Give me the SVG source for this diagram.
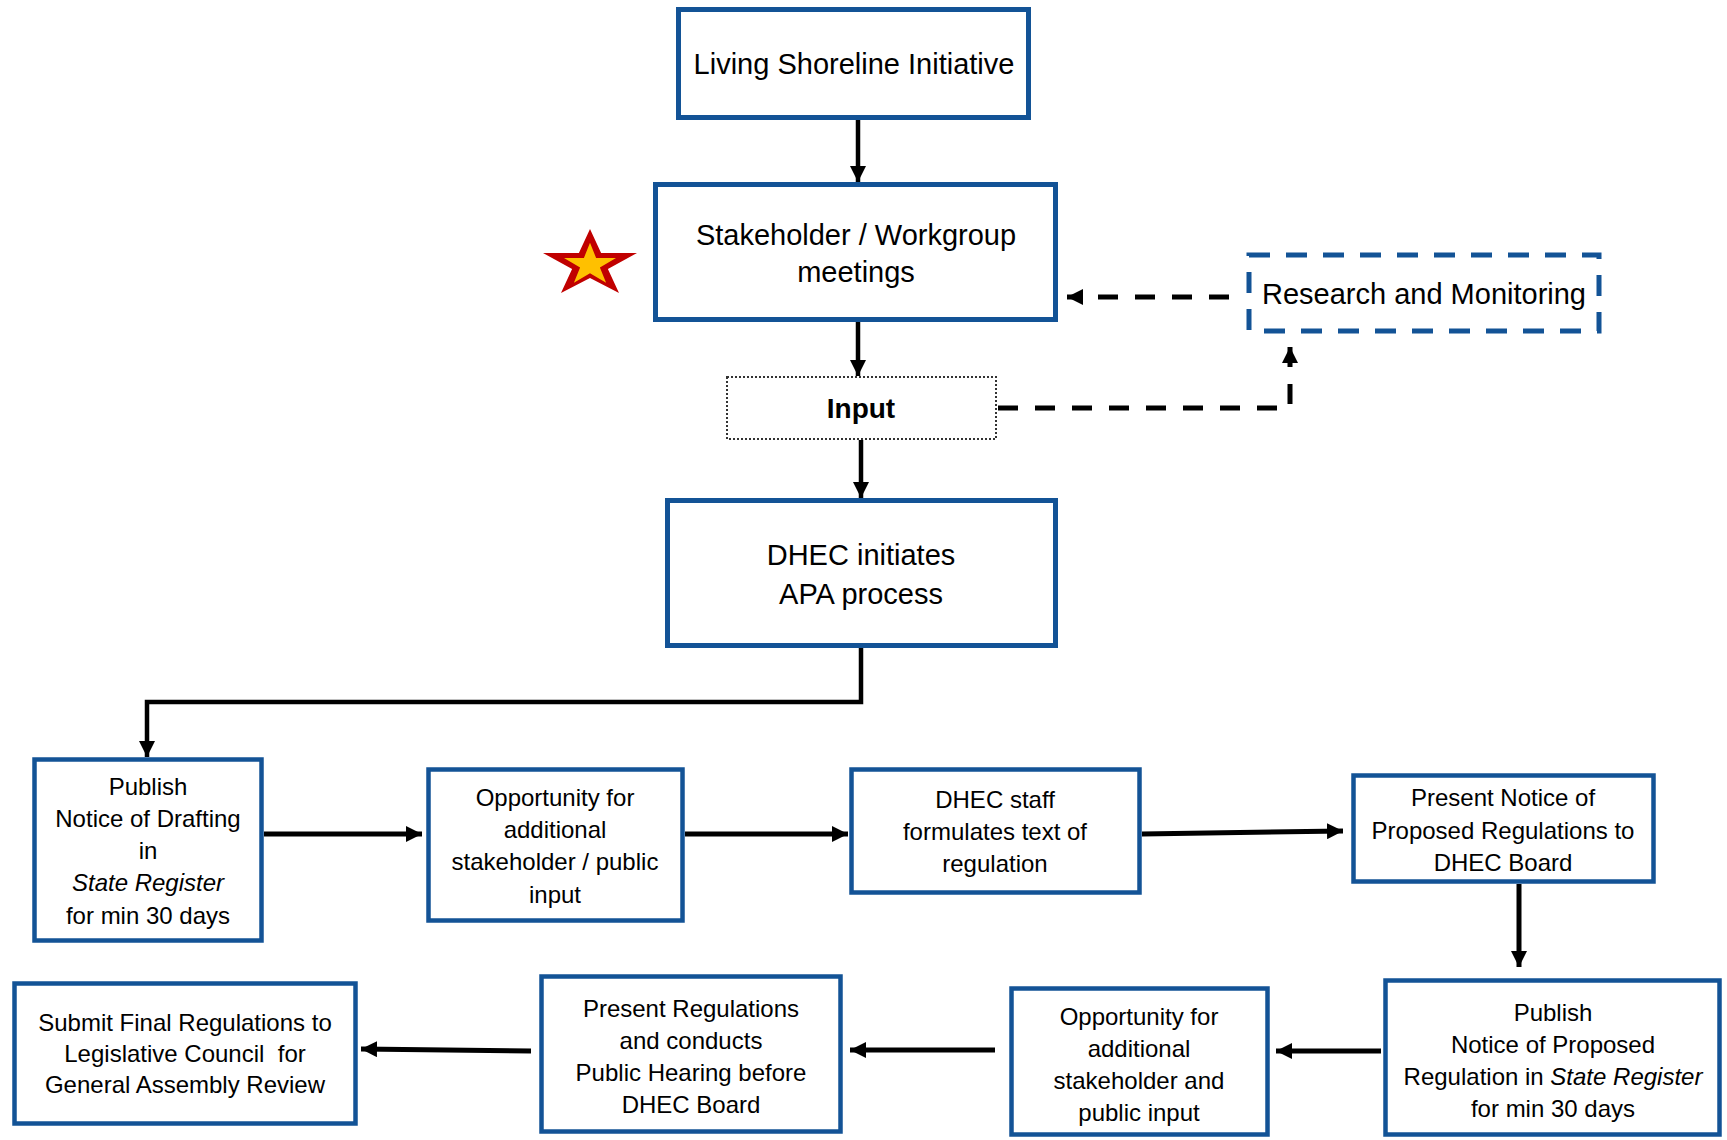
<svg xmlns="http://www.w3.org/2000/svg" width="1727" height="1140" viewBox="0 0 1727 1140">
<style>
  .box { fill: #ffffff; stroke: #135396; stroke-width: 5; }
  .box2 { fill: #ffffff; stroke: #135396; stroke-width: 4.5; }
  .dbox { fill: #ffffff; stroke: #135396; stroke-width: 5; stroke-dasharray: 21 16; }
  .ibox { fill: #ffffff; stroke: #333333; stroke-width: 2; stroke-dasharray: 2 2; }
  .t { font-family: "Liberation Sans", Arial, sans-serif; fill: #000000; text-anchor: middle; }
  .big { font-size: 29px; }
  .small { font-size: 24px; }
  .line { fill: none; stroke: #000000; stroke-width: 4.5; }
  .line2 { fill: none; stroke: #000000; stroke-width: 5; }
  .dash { fill: none; stroke: #000000; stroke-width: 5; stroke-dasharray: 20 17; }
</style>
<defs>
  <marker id="ah" viewBox="0 0 16 16" refX="16" refY="8" markerWidth="16" markerHeight="16" markerUnits="userSpaceOnUse" orient="auto">
    <path d="M0,0 L16,8 L0,16 z" fill="#000000"/>
  </marker>
</defs>
<rect width="1727" height="1140" fill="#ffffff"/>

<g id="connectors">
  <path class="line" d="M858,120 V182" marker-end="url(#ah)"/>
  <path class="line" d="M858,322 V376" marker-end="url(#ah)"/>
  <path class="line" d="M861,440 V498" marker-end="url(#ah)"/>
  <path class="line" d="M861,648 V702 H147 V757" marker-end="url(#ah)"/>
  <path class="line2" d="M264,834 H422" marker-end="url(#ah)"/>
  <path class="line2" d="M685,834 H848" marker-end="url(#ah)"/>
  <path class="line2" d="M1142,834 L1343,831" marker-end="url(#ah)"/>
  <path class="line2" d="M1519,884 V967" marker-end="url(#ah)"/>
  <path class="line2" d="M1381,1051 H1276" marker-end="url(#ah)"/>
  <path class="line2" d="M995,1050 H850" marker-end="url(#ah)"/>
  <path class="line2" d="M531,1051 L361,1049" marker-end="url(#ah)"/>
  <path class="dash" d="M1229,297 H1067" marker-end="url(#ah)"/>
  <path class="dash" d="M998,408 H1290 V347" marker-end="url(#ah)"/>
</g>

<g id="star">
  <polygon points="590,229 601.1,253 637,253 607.9,268.9 619,293 590,278.1 561,293 572.1,268.9 543,253 578.9,253" fill="#C00000"/>
  <polygon points="590,242.7 596.1,258 616,258 599.9,267.4 606.1,282.7 590,273.2 573.9,282.7 580.1,267.4 564,258 583.9,258" fill="#FFC000"/>
</g>

<g id="n-living">
  <rect class="box" x="678.5" y="9.5" width="350" height="108"/>
  <text class="t big" x="854" y="74">Living Shoreline Initiative</text>
</g>

<g id="n-stakeholder">
  <rect class="box" x="655.5" y="184.5" width="400" height="135"/>
  <text class="t big" x="856" y="245">Stakeholder / Workgroup</text>
  <text class="t big" x="856" y="282">meetings</text>
</g>

<g id="n-research">
  <rect class="dbox" x="1249" y="255" width="350" height="76"/>
  <text class="t big" x="1424" y="304">Research and Monitoring</text>
</g>

<g id="n-input">
  <rect class="ibox" x="727" y="377" width="269" height="62"/>
  <text class="t" x="861" y="418" font-size="28" font-weight="bold">Input</text>
</g>

<g id="n-dhec">
  <rect class="box" x="667.5" y="500.5" width="388" height="145"/>
  <text class="t big" x="861" y="565">DHEC initiates</text>
  <text class="t big" x="861" y="604">APA process</text>
</g>

<g id="n-publish1">
  <rect class="box2" x="34.5" y="759.5" width="227" height="181"/>
  <text class="t small" x="148" y="795">Publish</text>
  <text class="t small" x="148" y="827">Notice of Drafting</text>
  <text class="t small" x="148" y="859">in</text>
  <text class="t small" x="148" y="891" font-style="italic">State Register</text>
  <text class="t small" x="148" y="924">for min 30 days</text>
</g>

<g id="n-opp1">
  <rect class="box2" x="428.5" y="769.5" width="254" height="151"/>
  <text class="t small" x="555" y="806">Opportunity for</text>
  <text class="t small" x="555" y="838">additional</text>
  <text class="t small" x="555" y="870">stakeholder / public</text>
  <text class="t small" x="555" y="903">input</text>
</g>

<g id="n-staff">
  <rect class="box2" x="851.5" y="769.5" width="288" height="123"/>
  <text class="t small" x="995" y="808">DHEC staff</text>
  <text class="t small" x="995" y="840">formulates text of</text>
  <text class="t small" x="995" y="872">regulation</text>
</g>

<g id="n-notice">
  <rect class="box2" x="1353.5" y="775.5" width="300" height="106"/>
  <text class="t small" x="1503" y="806">Present Notice of</text>
  <text class="t small" x="1503" y="839">Proposed Regulations to</text>
  <text class="t small" x="1503" y="871">DHEC Board</text>
</g>

<g id="n-publish2">
  <rect class="box2" x="1385.5" y="980.5" width="334" height="154"/>
  <text class="t small" x="1553" y="1021">Publish</text>
  <text class="t small" x="1553" y="1053">Notice of Proposed</text>
  <text class="t small" x="1553" y="1085">Regulation in <tspan font-style="italic">State Register</tspan></text>
  <text class="t small" x="1553" y="1117">for min 30 days</text>
</g>

<g id="n-opp2">
  <rect class="box2" x="1011.5" y="988.5" width="256" height="146"/>
  <text class="t small" x="1139" y="1025">Opportunity for</text>
  <text class="t small" x="1139" y="1057">additional</text>
  <text class="t small" x="1139" y="1089">stakeholder and</text>
  <text class="t small" x="1139" y="1121">public input</text>
</g>

<g id="n-present">
  <rect class="box2" x="541.5" y="976.5" width="299" height="155"/>
  <text class="t small" x="691" y="1017">Present Regulations</text>
  <text class="t small" x="691" y="1049">and conducts</text>
  <text class="t small" x="691" y="1081">Public Hearing before</text>
  <text class="t small" x="691" y="1113">DHEC Board</text>
</g>

<g id="n-submit">
  <rect class="box2" x="14.5" y="983.5" width="341" height="140"/>
  <text class="t small" x="185" y="1031">Submit Final Regulations to</text>
  <text class="t small" x="185" y="1062" xml:space="preserve">Legislative Council  for</text>
  <text class="t small" x="185" y="1093">General Assembly Review</text>
</g>
</svg>
